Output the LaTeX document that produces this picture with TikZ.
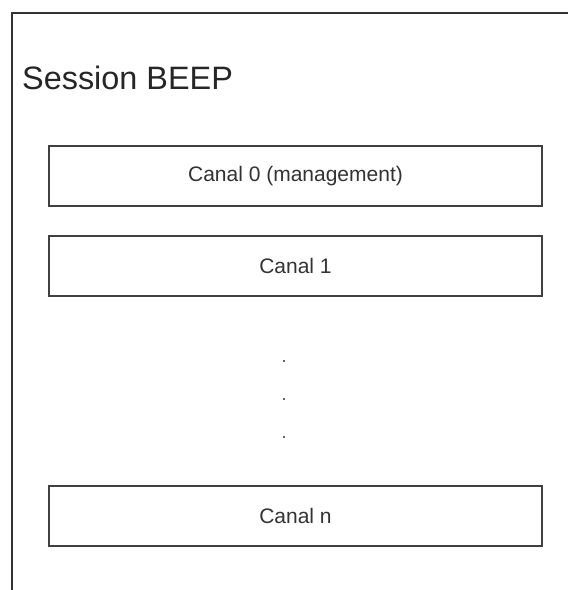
\documentclass[tikz,border=0pt]{standalone}
\usepackage{fontspec}
\setmainfont{Liberation Sans}
\begin{document}
\begin{tikzpicture}[x=1pt,y=-1pt,
  frame/.style={draw=black!80,line width=2pt},
  chan/.style={draw=black!75,line width=1.6pt,minimum width=493pt,minimum height=60pt,inner sep=0pt,font=\fontsize{21}{24}\selectfont,text=black!80},
  dotmark/.style={fill=black!60,inner sep=0pt,minimum size=2.5pt}]
\useasboundingbox (0,0) rectangle (568,590);
\fill[white] (0,0) rectangle (568,590);
\coordinate (fl) at (11.5,590);
\coordinate (ftl) at (11.5,13);
\coordinate (fr) at (568,13);
\draw[frame] (fl) -- (ftl) -- (fr);
\node[anchor=base west,inner sep=0pt,font=\fontsize{32.4}{36}\selectfont,text=black!85] (title) at (22,89) {Session BEEP};
\node[chan] (c0) at (295.5,176) {Canal 0 (management)};
\node[chan] (c1) at (295.5,266) {Canal 1};
\node[chan] (cn) at (295.5,516) {Canal n};
\node[dotmark] (d1) at (284,361) {};
\node[dotmark] (d2) at (284,399) {};
\node[dotmark] (d3) at (284,437) {};
\end{tikzpicture}
\end{document}
